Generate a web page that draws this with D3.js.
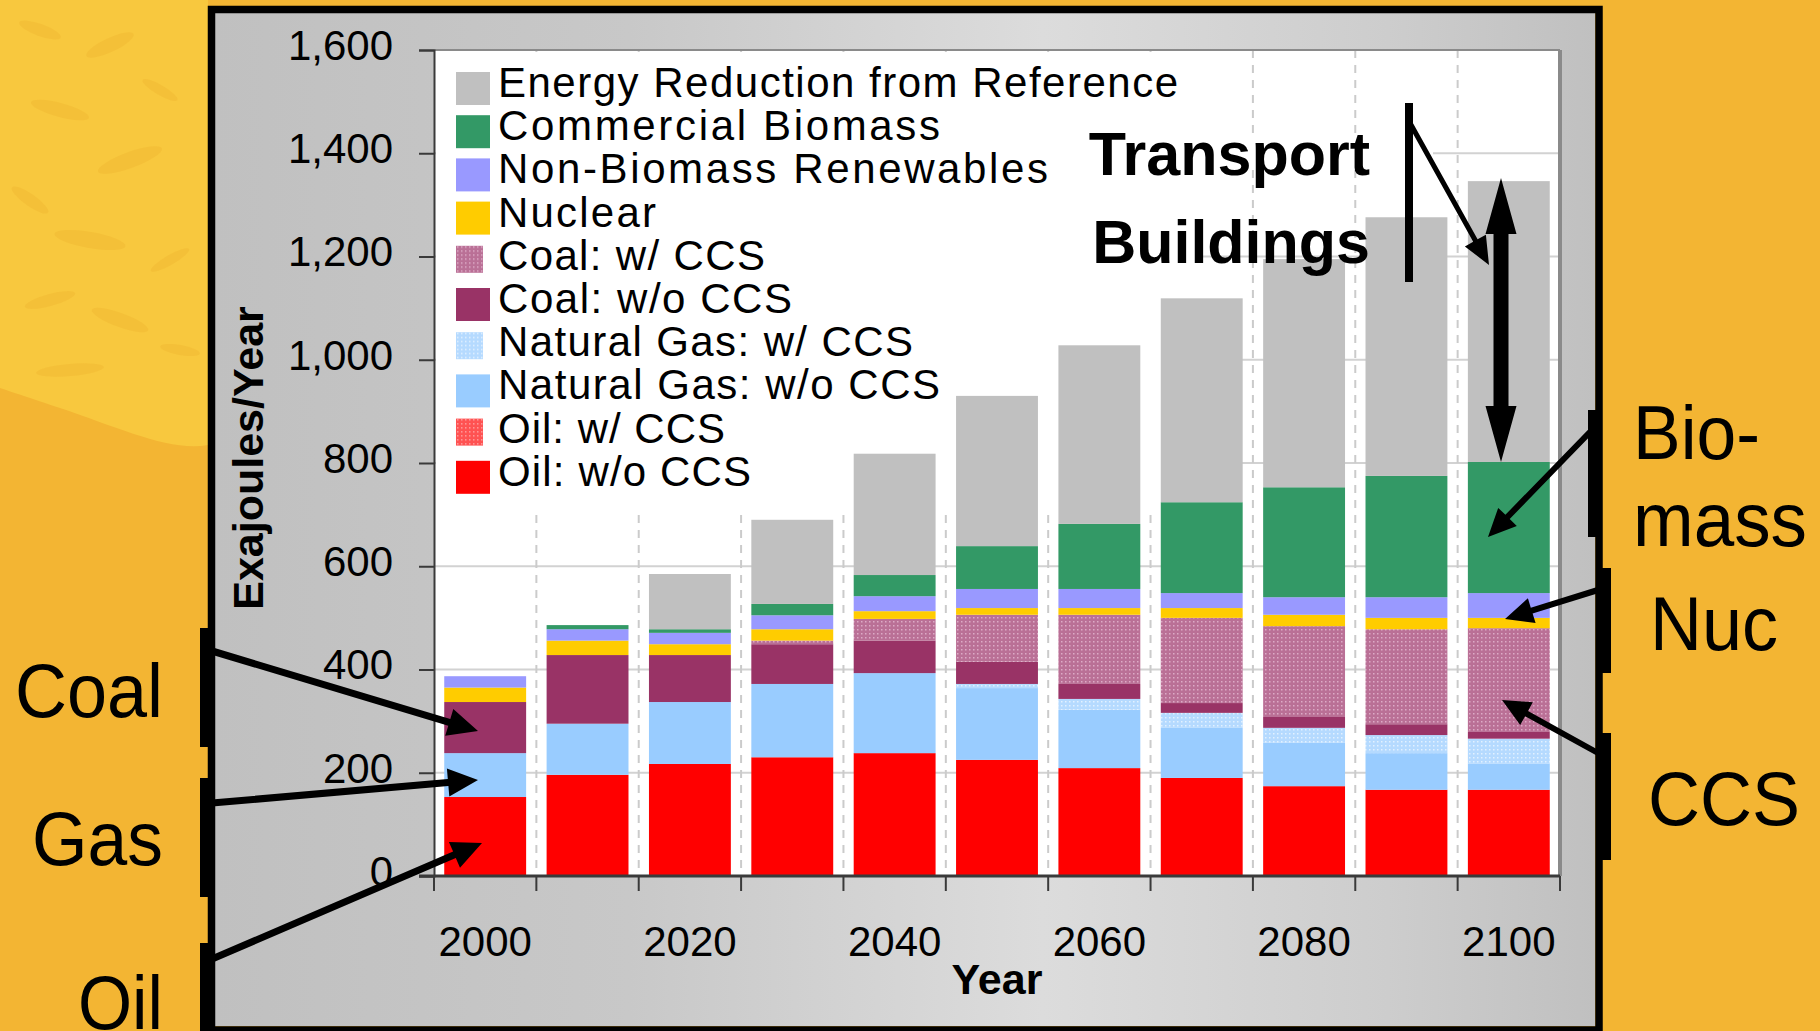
<!DOCTYPE html>
<html>
<head>
<meta charset="utf-8">
<script src="https://cdnjs.cloudflare.com/ajax/libs/d3/7.8.5/d3.min.js"></script>
<style>
body { margin: 0; background: #F3B533; overflow: hidden; }
text { font-family: "Liberation Sans", Arial, Helvetica, sans-serif; }
</style>
</head>
<body>
<div id="chart"></div>
<script>
// data (Exajoules/Year)
var years = [2000, 2010, 2020, 2030, 2040, 2050, 2060, 2070, 2080, 2090, 2100];
var oilNoCCS   = [153, 196, 217, 230, 238, 225, 209, 190, 174, 167, 167];
var oilCCS     = [0, 0, 0, 0, 0, 0, 0, 0, 0, 0, 0];
var gasNoCCS   = [85, 99, 120, 142, 155, 139, 113, 97, 84, 71, 51];
var gasCCS     = [0, 0, 0, 0, 0, 8, 21, 29, 29, 35, 48];
var coalNoCCS  = [99, 133, 91, 77, 63, 43, 29, 19, 21, 21, 13];
var coalCCS    = [0, 0, 0, 7, 42, 91, 134, 165, 176, 184, 201];
var nuclear    = [28, 28, 21, 22, 15, 13, 13, 19, 22, 22, 20];
var renewables = [22, 22, 22, 27, 29, 37, 37, 29, 34, 40, 48];
var biomass    = [0, 8, 7, 22, 41, 83, 126, 176, 213, 235, 254];
var reduction  = [0, 0, 107, 163, 235, 291, 346, 395, 442, 501, 544];

var seriesKeys = ["oilNoCCS", "oilCCS", "gasNoCCS", "gasCCS", "coalNoCCS",
                  "coalCCS", "nuclear", "renewables", "biomass", "reduction"];
var seriesLabels = ["Oil: w/o CCS", "Oil: w/ CCS", "Natural Gas: w/o CCS", "Natural Gas: w/ CCS",
                    "Coal: w/o CCS", "Coal: w/ CCS", "Nuclear", "Non-Biomass Renewables",
                    "Commercial Biomass", "Energy Reduction from Reference"];
var yTicks = [0, 200, 400, 600, 800, 1000, 1200, 1400, 1600];
var xTickYears = [2000, 2020, 2040, 2060, 2080, 2100];

var seriesData = {
    oilNoCCS: oilNoCCS, oilCCS: oilCCS, gasNoCCS: gasNoCCS, gasCCS: gasCCS,
    coalNoCCS: coalNoCCS, coalCCS: coalCCS, nuclear: nuclear,
    renewables: renewables, biomass: biomass, reduction: reduction
};

var fills = {
    oilNoCCS: "#FF0000", oilCCS: "url(#patOil)", gasNoCCS: "#99CCFF", gasCCS: "url(#patGas)",
    coalNoCCS: "#993366", coalCCS: "url(#patCoal)", nuclear: "#FFCC00",
    renewables: "#9999FF", biomass: "#339966", reduction: "#C0C0C0"
};
var patterned = {oilCCS: true, gasCCS: true, coalCCS: true};
// legend text widths as set in the original slide (letter spacing is uneven there)
var legendTextWidth = {
    reduction: 680, biomass: 442, renewables: 550, nuclear: 158, coalCCS: 267,
    coalNoCCS: 294, gasCCS: 415, gasNoCCS: 442, oilCCS: 227, oilNoCCS: 253
};

var W = 1820, H = 1031;
var plotL = 434, plotR = 1560, plotT = 50, plotB = 876;

var svg = d3.select("#chart").append("svg")
    .attr("width", W)
    .attr("height", H);

var defs = svg.append("defs");

var grad = defs.append("linearGradient").attr("id", "panelGrad")
    .attr("x1", 0).attr("y1", 0).attr("x2", 1).attr("y2", 0);
[[0, "#c0c0c0"], [0.3, "#c8c8c8"], [0.6, "#dcdcdc"], [0.85, "#cdcdcd"], [1, "#c0c0c0"]]
    .forEach(function (s) {
        grad.append("stop").attr("offset", s[0]).attr("stop-color", s[1]);
    });

function dotPattern(id, base, dot) {
    var p = defs.append("pattern").attr("id", id)
        .attr("width", 4).attr("height", 4)
        .attr("patternUnits", "userSpaceOnUse");
    p.append("rect").attr("width", 4).attr("height", 4).attr("fill", base);
    p.append("rect").attr("x", 1).attr("y", 1).attr("width", 1.5).attr("height", 1.5).attr("fill", dot);
}
dotPattern("patCoal", "#BA7096", "#DDAAC6");
dotPattern("patGas", "#B5DAFF", "#E2F1FF");
dotPattern("patOil", "#FF5252", "#FF9C9C");

// background decoration (top-left lace pattern)
var deco = svg.append("g");
deco.append("path")
    .attr("d", "M0,0 H208 V445 C170,452 120,428 60,408 C30,398 12,392 0,388 Z")
    .attr("fill", "#F8C83E");
[[40, 30, 22, 6, 20], [110, 45, 26, 7, -25], [160, 90, 20, 5, 30], [60, 110, 30, 7, 15],
 [130, 160, 34, 8, -20], [30, 200, 22, 6, 35], [90, 240, 36, 8, 10], [170, 260, 22, 5, -30],
 [50, 300, 26, 6, -15], [120, 320, 30, 7, 20], [180, 350, 20, 5, 10], [70, 370, 34, 6, -5]]
    .forEach(function (e) {
        deco.append("ellipse")
            .attr("cx", e[0]).attr("cy", e[1]).attr("rx", e[2]).attr("ry", e[3])
            .attr("transform", "rotate(" + e[4] + "," + e[0] + "," + e[1] + ")")
            .attr("fill", "#EFB12E").attr("opacity", 0.35);
    });

// grey panel with black frame
svg.append("rect")
    .attr("x", 215).attr("y", 13).attr("width", 1380).attr("height", 1013)
    .attr("fill", "url(#panelGrad)");
svg.append("rect")
    .attr("x", 211.5).attr("y", 9.5).attr("width", 1387.5).attr("height", 1020.5)
    .attr("fill", "none").attr("stroke", "#000").attr("stroke-width", 7.5);

// scales
var x = d3.scaleBand().domain(years).range([plotL, plotR]).paddingInner(0.2).paddingOuter(0.1);
var y = d3.scaleLinear().domain([0, 1600]).range([plotB, plotT]);
var step = x.step();
var boundaries = d3.range(years.length + 1).map(function (i) { return plotL + i * step; });

// plot area
svg.append("rect")
    .attr("x", plotL).attr("y", plotT).attr("width", plotR - plotL).attr("height", plotB - plotT)
    .attr("fill", "#fff");

svg.append("g").selectAll("line")
    .data(yTicks.filter(function (v) { return v > 0 && v < 1600; }))
    .enter().append("line")
    .attr("x1", plotL).attr("x2", plotR)
    .attr("y1", function (d) { return y(d); })
    .attr("y2", function (d) { return y(d); })
    .attr("stroke", "#d2d2d2").attr("stroke-width", 2);

svg.append("g").selectAll("line")
    .data(boundaries.slice(1, boundaries.length - 1))
    .enter().append("line")
    .attr("x1", function (d) { return d; }).attr("x2", function (d) { return d; })
    .attr("y1", plotT).attr("y2", plotB)
    .attr("stroke", "#cbcbcb").attr("stroke-width", 2)
    .attr("stroke-dasharray", "8,7");

// legend backing and the patch behind "Transport"
svg.append("rect").attr("x", 436).attr("y", 52).attr("width", 761).attr("height", 456).attr("fill", "#fff");
svg.append("rect").attr("x", 1197).attr("y", 140).attr("width", 236).attr("height", 25).attr("fill", "#fff");

// stacked bars
var rows = years.map(function (yr, i) {
    var r = {year: yr};
    seriesKeys.forEach(function (k) { r[k] = seriesData[k][i]; });
    return r;
});
var stacked = d3.stack().keys(seriesKeys)(rows);

var layers = svg.append("g").selectAll("g.layer")
    .data(stacked)
    .enter().append("g")
    .attr("class", "layer")
    .attr("fill", function (d) { return fills[d.key]; });

layers.selectAll("rect")
    .data(function (d) { return d.filter(function (s) { return s[1] - s[0] > 0; }); })
    .enter().append("rect")
    .attr("x", function (d) { return x(d.data.year); })
    .attr("width", x.bandwidth())
    .attr("y", function (d) { return y(d[1]); })
    .attr("height", function (d) { return y(d[0]) - y(d[1]); });

// plot frame
svg.append("line").attr("x1", plotL).attr("x2", plotR).attr("y1", plotT).attr("y2", plotT)
    .attr("stroke", "#8a8a8a").attr("stroke-width", 2);
svg.append("line").attr("x1", plotR).attr("x2", plotR).attr("y1", plotT).attr("y2", plotB)
    .attr("stroke", "#8a8a8a").attr("stroke-width", 4);

// y axis
var yAxis = svg.append("g")
    .attr("transform", "translate(" + plotL + ",0)")
    .call(d3.axisLeft(y).tickValues(yTicks).tickSize(15).tickPadding(26).tickFormat(d3.format(",")));
yAxis.select(".domain").attr("stroke", "#3a3a3a").attr("stroke-width", 2);
yAxis.selectAll(".tick line").attr("stroke", "#3a3a3a").attr("stroke-width", 2);
yAxis.selectAll(".tick text")
    .attr("dy", "0.22em")
    .style("font-family", "'Liberation Sans', Arial, sans-serif")
    .style("font-size", "42px").attr("fill", "#000");

// x axis
var xAxis = svg.append("g")
    .attr("transform", "translate(0," + plotB + ")")
    .call(d3.axisBottom(x).tickValues(xTickYears).tickSize(0).tickPadding(50));
xAxis.select(".domain").remove();
xAxis.selectAll(".tick text")
    .style("font-family", "'Liberation Sans', Arial, sans-serif")
    .style("font-size", "42px").attr("fill", "#000");

svg.append("g").selectAll("line")
    .data(boundaries)
    .enter().append("line")
    .attr("x1", function (d) { return d; }).attr("x2", function (d) { return d; })
    .attr("y1", plotB).attr("y2", plotB + 15)
    .attr("stroke", "#3a3a3a").attr("stroke-width", 2);
svg.append("line").attr("x1", plotL - 15).attr("x2", plotR).attr("y1", plotB).attr("y2", plotB)
    .attr("stroke", "#3a3a3a").attr("stroke-width", 3);

// axis titles
svg.append("text")
    .attr("transform", "translate(263,458) rotate(-90)")
    .attr("text-anchor", "middle")
    .style("font-size", "43px").style("font-weight", "bold")
    .text("Exajoules/Year");
svg.append("text")
    .attr("x", (plotL + plotR) / 2).attr("y", 994)
    .attr("text-anchor", "middle")
    .style("font-size", "43px").style("font-weight", "bold")
    .text("Year");

// legend (top to bottom = reverse stack order)
var legendOrder = seriesKeys.slice().reverse();
var legend = svg.append("g").selectAll("g.leg")
    .data(legendOrder)
    .enter().append("g")
    .attr("class", "leg")
    .attr("transform", function (d, i) { return "translate(0," + (88.5 + i * 43.2) + ")"; });

legend.append("rect")
    .attr("x", 456)
    .attr("y", function (d) { return patterned[d] ? -15.5 : -16.5; })
    .attr("width", function (d) { return patterned[d] ? 27 : 34; })
    .attr("height", function (d) { return patterned[d] ? 27 : 33; })
    .attr("fill", function (d) { return fills[d]; });

legend.append("text")
    .attr("x", 498).attr("y", 8.5)
    .attr("textLength", function (d) { return legendTextWidth[d]; })
    .attr("lengthAdjust", "spacing")
    .style("font-size", "42px")
    .text(function (d) { return seriesLabels[seriesKeys.indexOf(d)]; });

// annotations
var ann = svg.append("g");

function arrowPoints(x1, y1, x2, y2, w, hl, hw) {
    var dx = x2 - x1, dy = y2 - y1, len = Math.sqrt(dx * dx + dy * dy);
    var ux = dx / len, uy = dy / len, nx = -uy, ny = ux;
    var bx = x2 - ux * hl, by = y2 - uy * hl;
    var p = [
        [x1 + nx * w / 2, y1 + ny * w / 2],
        [bx + nx * w / 2, by + ny * w / 2],
        [bx + nx * hw, by + ny * hw],
        [x2, y2],
        [bx - nx * hw, by - ny * hw],
        [bx - nx * w / 2, by - ny * w / 2],
        [x1 - nx * w / 2, y1 - ny * w / 2]
    ];
    return p.map(function (q) { return q[0].toFixed(1) + "," + q[1].toFixed(1); }).join(" ");
}

function arrow(x1, y1, x2, y2, w, hl, hw) {
    ann.append("polygon").attr("points", arrowPoints(x1, y1, x2, y2, w, hl, hw)).attr("fill", "#000");
}

// left brackets and arrows
[[628, 747], [778, 897], [943, 1031]].forEach(function (b) {
    ann.append("rect").attr("x", 200).attr("y", b[0]).attr("width", 10).attr("height", b[1] - b[0]).attr("fill", "#000");
});
arrow(212, 651, 478, 731, 7, 30, 14);
arrow(212, 803, 478, 780, 7, 30, 14);
arrow(212, 959, 482, 843, 7, 30, 14);

// right brackets and arrows
ann.append("rect").attr("x", 1588).attr("y", 410).attr("width", 8).attr("height", 127).attr("fill", "#000");
ann.append("rect").attr("x", 1600).attr("y", 568).attr("width", 11).attr("height", 105).attr("fill", "#000");
ann.append("rect").attr("x", 1600).attr("y", 733).attr("width", 11).attr("height", 127).attr("fill", "#000");
arrow(1590, 432, 1488, 537, 6, 28, 13);
arrow(1598, 590, 1505, 619, 6, 28, 13);
arrow(1598, 753, 1502, 700, 6, 28, 13);

// transport / buildings markers
ann.append("rect").attr("x", 1405).attr("y", 103).attr("width", 8).attr("height", 179).attr("fill", "#000");
arrow(1410, 123, 1489, 265, 5, 28, 12);

(function () {
    var cx = 1501, t = 178, b = 462, w = 15, hl = 56, hw = 15.5;
    var pts = [[cx, t], [cx + hw, t + hl], [cx + w / 2, t + hl], [cx + w / 2, b - hl], [cx + hw, b - hl],
               [cx, b], [cx - hw, b - hl], [cx - w / 2, b - hl], [cx - w / 2, t + hl], [cx - hw, t + hl]];
    ann.append("polygon")
        .attr("points", pts.map(function (q) { return q.join(","); }).join(" "))
        .attr("fill", "#000");
})();

ann.append("text").attr("x", 1370).attr("y", 175).attr("text-anchor", "end")
    .style("font-size", "61px").style("font-weight", "bold").text("Transport");
ann.append("text").attr("x", 1370).attr("y", 263).attr("text-anchor", "end")
    .style("font-size", "61px").style("font-weight", "bold").text("Buildings");

// side labels on the orange
function sideLabel(txt, x0, y0, len) {
    ann.append("text").attr("x", x0).attr("y", y0)
        .attr("textLength", len).attr("lengthAdjust", "spacingAndGlyphs")
        .style("font-size", "76px").text(txt);
}
sideLabel("Coal", 15, 717, 148);
sideLabel("Gas", 32, 865, 131);
sideLabel("Oil", 78, 1029, 85);
sideLabel("Bio-", 1633, 459, 127);
sideLabel("mass", 1633, 546, 174);
sideLabel("Nuc", 1650, 650, 128);
sideLabel("CCS", 1648, 825, 152);
</script>
</body>
</html>
